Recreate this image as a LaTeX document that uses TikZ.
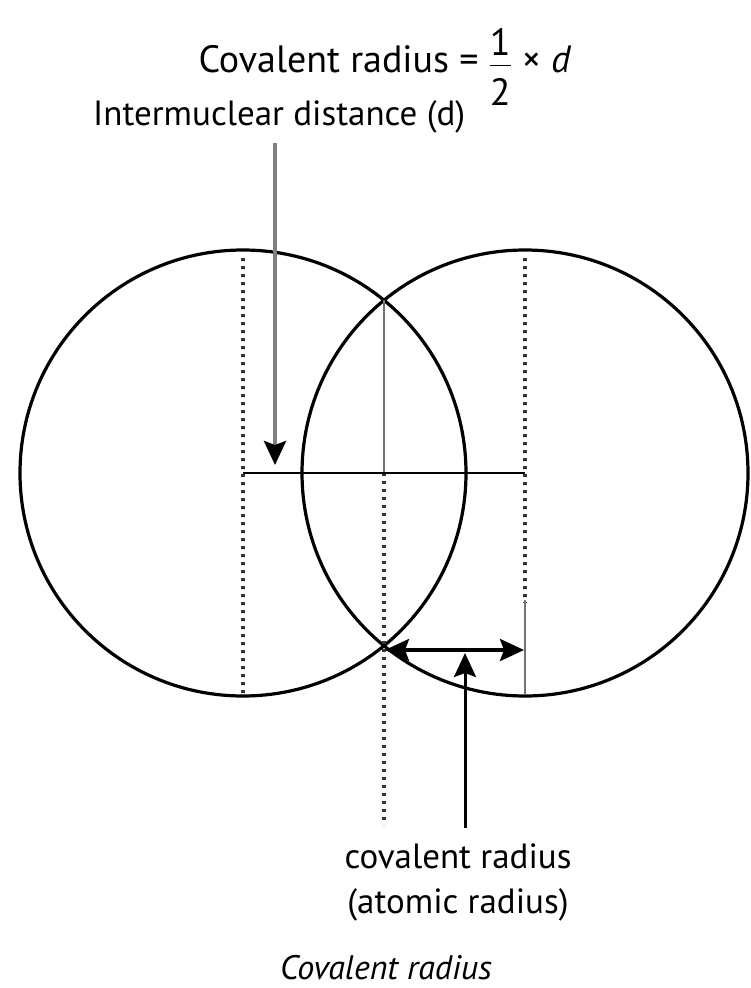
\documentclass[tikz,border=0pt]{standalone}
\usepackage{amsmath}
\usepackage{fontspec}
\setmainfont{PT Sans}
\usetikzlibrary{arrows.meta}
\tikzset{
  atom/.style={line width=3.2pt},
  guide/.style={line width=3.5pt, dash pattern=on 2.7pt off 5.3pt, black!80},
  axis/.style={line width=2.4pt, black!55},
  bigtip/.tip={Stealth[black, length=24pt, width=22pt, inset=4pt]},
  lbl/.style={font=\fontsize{35}{42}\selectfont, inner sep=0pt}
}
\begin{document}
\begin{tikzpicture}[x=1pt,y=-1pt]
\useasboundingbox (0,0) rectangle (751,988);
% nuclei and the two crossing points
\coordinate (nA) at (243,473);
\coordinate (nB) at (525,473);
\coordinate (xtop) at (384,300);
\coordinate (xbot) at (384,646);

\draw[atom] (nA) circle (223);
\draw[atom] (nB) circle (223);

% guide lines
\draw[guide] (243,258) -- (nA) -- (243,695);
\draw[guide] (525,258) -- (nB) -- (525,603);
\draw[axis]  (525,600) -- (525,695);
\draw[axis]  (xtop) -- (xtop |- nA);
\draw[guide] (xtop |- nA) -- (384,825);
\draw[line width=2.8pt] (nA) -- (nB);

% labels
\node[lbl, anchor=base, font=\fontsize{38}{46}\selectfont] (formula) at (385,72)
  {Covalent radius = $\dfrac{\text{1}\rule[-4pt]{0pt}{0pt}}{\rule{0pt}{36pt}\text{2}}$ × \textit{d}};
\node[lbl, anchor=base west] (dlabel) at (93,125) {Intermuclear distance (d)};
\node[lbl, anchor=base] (rlabel) at (458,868) {covalent radius};
\node[lbl, anchor=base] (alabel) at (458,913) {(atomic radius)};
\node[lbl, anchor=base, font=\fontsize{34}{40}\selectfont\itshape] (caption) at (386,979) {Covalent radius};

% arrows
\coordinate (dtail) at (275,143);
\coordinate (dhead) at (275,465);
\draw[line width=4pt, black!50, -bigtip] (dtail) -- (dhead);
\coordinate (rl) at (385,650);
\coordinate (rr) at (524,650);
\draw[line width=3.5pt, bigtip-bigtip] (rl) -- (rr);
\coordinate (utail) at (465,828);
\coordinate (uhead) at (465,653);
\draw[line width=3pt, -bigtip] (utail) -- (uhead);
\end{tikzpicture}
\end{document}
